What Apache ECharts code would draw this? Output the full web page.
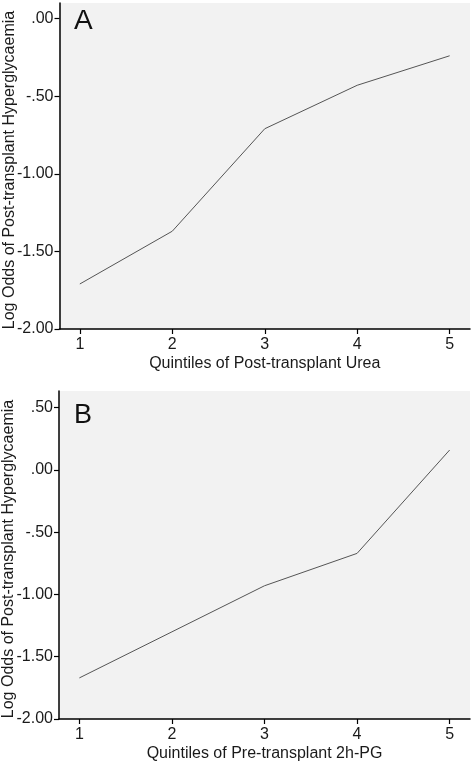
<!DOCTYPE html>
<html>
<head>
<meta charset="utf-8">
<script src="https://cdn.jsdelivr.net/npm/echarts@6/dist/echarts.min.js"></script>
<style>
html,body{margin:0;padding:0;background:#fff;}
#chart{width:474px;height:762px;}
</style>
</head>
<body>
<div id="chart"></div>
<script>
var quintiles = [1, 2, 3, 4, 5];
var ureaLogOdds = [-1.71, -1.37, -0.71, -0.43, -0.24];
var pgLogOdds = [-1.67, -1.30, -0.93, -0.67, 0.16];
var yTicksA = [-2, -1.5, -1, -0.5, 0];
var yTicksB = [-2, -1.5, -1, -0.5, 0, 0.5];
var panelLabels = ['A', 'B'];
var xNames = ['Quintiles of Post-transplant Urea', 'Quintiles of Pre-transplant 2h-PG'];
var yName = 'Log Odds of Post-transplant Hyperglycaemia';

function fmt(v) {
  var s = Number(v).toFixed(2);
  return s.replace(/^(-?)0\./, '$1.');
}
var FONT = 'Liberation Sans, Arial, sans-serif';
var txt = '#1a1a1a';

function xAxis(i) {
  return {
    type: 'value', gridIndex: i, min: 0.78, max: 5.22,
    name: xNames[i], nameLocation: 'middle', nameGap: 27, nameMoveOverlap: false,
    nameTextStyle: { fontFamily: FONT, fontSize: 16, color: txt },
    axisLine: { show: true, onZero: false, lineStyle: { color: '#000', width: 1.5 } },
    axisTick: { show: true, length: 5, customValues: quintiles, lineStyle: { color: '#000', width: 1.2 } },
    axisLabel: { customValues: quintiles, margin: 8, fontFamily: FONT, fontSize: 16, color: txt },
    splitLine: { show: false }
  };
}
function yAxis(i, ticks, min, max) {
  return {
    type: 'value', gridIndex: i, min: min, max: max,
    name: yName, nameLocation: 'middle', nameGap: 42, nameMoveOverlap: false,
    nameTextStyle: { fontFamily: FONT, fontSize: 16, color: txt, padding: [0, 8, 0, 0] },
    axisLine: { show: true, onZero: false, lineStyle: { color: '#000', width: 1.5 } },
    axisTick: { show: true, length: 5, customValues: ticks, lineStyle: { color: '#000', width: 1.2 } },
    axisLabel: { customValues: ticks, margin: 6, fontFamily: FONT, fontSize: 16, color: txt, formatter: fmt },
    splitLine: { show: false }
  };
}

var chart = echarts.init(document.getElementById('chart'), null, { renderer: 'canvas' });
chart.setOption({
  animation: false,
  backgroundColor: '#ffffff',
  title: [
    { text: panelLabels[0], left: 74, top: 7, padding: 0, textStyle: { fontFamily: FONT, fontSize: 28, fontWeight: 'normal', color: '#111' } },
    { text: panelLabels[1], left: 74, top: 402, padding: 0, textStyle: { fontFamily: FONT, fontSize: 27, fontWeight: 'normal', color: '#111' } }
  ],
  grid: [
    { left: 59.5, top: 3, width: 410.5, height: 326, show: true, backgroundColor: '#f2f2f2', borderWidth: 0, outerBoundsMode: 'none', containLabel: false },
    { left: 59, top: 391, width: 411, height: 328, show: true, backgroundColor: '#f2f2f2', borderWidth: 0, outerBoundsMode: 'none', containLabel: false }
  ],
  xAxis: [xAxis(0), xAxis(1)],
  yAxis: [yAxis(0, yTicksA, -2, 0.1), yAxis(1, yTicksB, -2, 0.634)],
  series: [
    { type: 'line', xAxisIndex: 0, yAxisIndex: 0, data: quintiles.map(function (q, k) { return [q, ureaLogOdds[k]]; }),
      showSymbol: false, lineStyle: { color: '#555', width: 1 } },
    { type: 'line', xAxisIndex: 1, yAxisIndex: 1, data: quintiles.map(function (q, k) { return [q, pgLogOdds[k]]; }),
      showSymbol: false, lineStyle: { color: '#555', width: 1 } }
  ]
});
</script>
</body>
</html>
